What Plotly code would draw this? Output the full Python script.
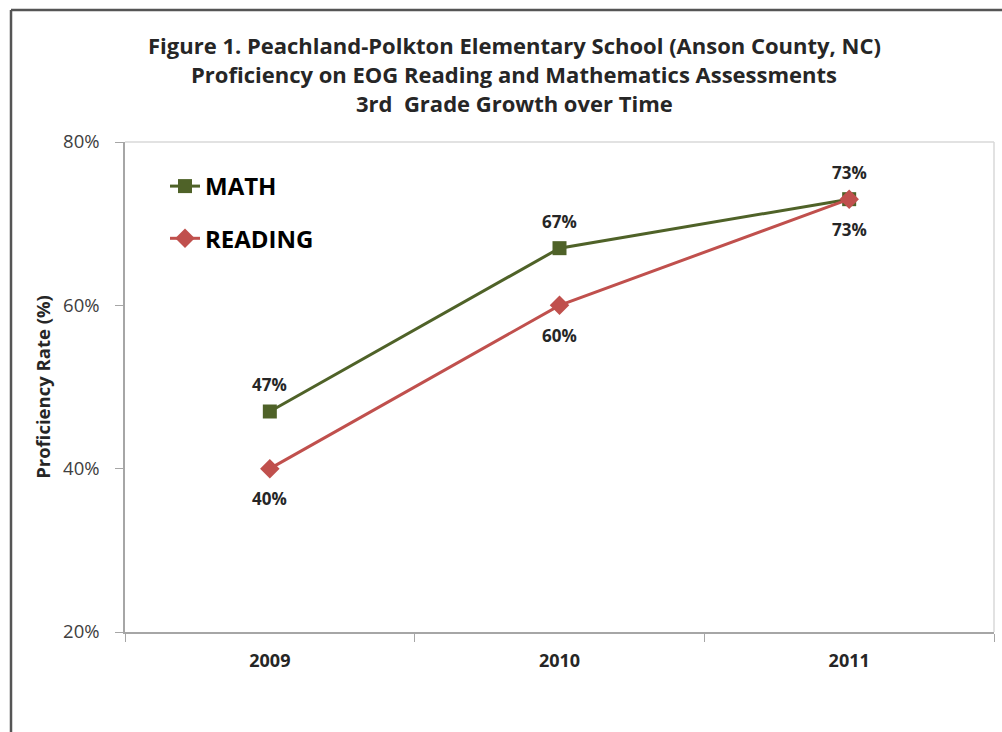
import plotly.graph_objects as go

years = ["2009", "2010", "2011"]
math_vals = [47, 67, 73]
reading_vals = [40, 60, 73]
math_labels = ["47%", "67%", "73%"]
reading_labels = ["40%", "60%", "73%"]
y_ticks = [20, 40, 60, 80]
y_tick_labels = ["20%", "40%", "60%", "80%"]
title_lines = [
    "Figure 1. Peachland-Polkton Elementary School (Anson County, NC)",
    "Proficiency on EOG Reading and Mathematics Assessments",
    "3rd  Grade Growth over Time",
]

FONT = "Open Sans, Noto Sans, sans-serif"
GREEN = "#4F6228"
RED = "#C0504D"
DARK = "#262626"

fig = go.Figure()
fig.add_trace(go.Scatter(
    x=years, y=math_vals, name="MATH", mode="lines+markers",
    line=dict(color=GREEN, width=3),
    marker=dict(symbol="square", size=14, color=GREEN),
    legendgroup="a", cliponaxis=False,
))
fig.add_trace(go.Scatter(
    x=years, y=reading_vals, name="READING", mode="lines+markers",
    line=dict(color=RED, width=3),
    marker=dict(symbol="diamond", size=15, color=RED),
    legendgroup="b", cliponaxis=False,
))

L, R, T, B = 125, 8, 142, 100
W, H = 1002, 732
pw, ph = W - L - R, H - T - B


def px(xp):
    return (xp - L) / pw


def py(yp):
    return (H - B - yp) / ph


annotations = []
for i, (v, lab) in enumerate(zip(math_vals, math_labels)):
    annotations.append(dict(x=i, y=v, xref="x", yref="y", text=lab, showarrow=False,
                            yshift=27,
                            font=dict(family=FONT, size=17, color=DARK, weight="bold")))
for i, (v, lab) in enumerate(zip(reading_vals, reading_labels)):
    annotations.append(dict(x=i, y=v, xref="x", yref="y", text=lab, showarrow=False,
                            yshift=-30,
                            font=dict(family=FONT, size=17, color=DARK, weight="bold")))
for line, yc in zip(title_lines, [45, 74, 103]):
    annotations.append(dict(x=px(514), y=py(yc), xref="paper", yref="paper",
                            text=line, showarrow=False, xanchor="center", yanchor="middle",
                            font=dict(family=FONT, size=22, color=DARK, weight="bold")))

fig.update_layout(
    width=W, height=H,
    margin=dict(l=L, r=R, t=T, b=B),
    paper_bgcolor="white", plot_bgcolor="white",
    font=dict(family=FONT, color="#404040"),
    xaxis=dict(
        type="category", range=[-0.5, 2.5],
        showline=True, linecolor="#A6A6A6", linewidth=1.5,
        ticks="outside", ticklen=8, tickcolor="#A6A6A6",
        tickson="boundaries", showgrid=False, zeroline=False,
        ticklabelstandoff=12,
        tickfont=dict(family=FONT, size=18, color=DARK, weight="bold"),
    ),
    yaxis=dict(
        range=[20, 80], tickvals=y_ticks, ticktext=y_tick_labels,
        showline=True, linecolor="#A6A6A6", linewidth=1.5,
        ticks="outside", ticklen=8, tickcolor="#A6A6A6",
        showgrid=False, zeroline=False, ticklabelstandoff=12,
        tickfont=dict(family=FONT, size=18.5, color="#404040"),
        title=dict(text="Proficiency Rate (%)", standoff=8,
                   font=dict(family=FONT, size=18.5, color=DARK, weight="bold")),
    ),
    legend=dict(
        x=px(165), y=py(164), xanchor="left", yanchor="top",
        bgcolor="rgba(0,0,0,0)", tracegroupgap=18,
        font=dict(family=FONT, size=24, color="#000000", weight="bold"),
        traceorder="grouped",
    ),
    showlegend=True,
    annotations=annotations,
    shapes=[
        dict(type="line", xref="paper", yref="paper", x0=1, x1=1, y0=0, y1=1,
             line=dict(color="#D9D9D9", width=1.5)),
        dict(type="line", xref="paper", yref="paper", x0=0, x1=1, y0=1, y1=1,
             line=dict(color="#D9D9D9", width=1.5)),
        dict(type="line", xref="paper", yref="paper", x0=px(11), x1=px(11),
             y0=py(740), y1=py(10), line=dict(color="#555555", width=2.5)),
        dict(type="line", xref="paper", yref="paper", x0=px(11), x1=px(1010),
             y0=py(10), y1=py(10), line=dict(color="#555555", width=2.5)),
    ],
)

fig.write_html("out.html", config={"displayModeBar": False},
               post_script="document.body.style.margin='0';")
